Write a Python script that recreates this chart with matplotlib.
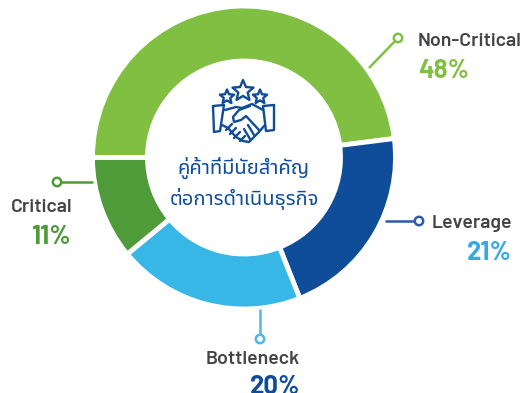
import numpy as np
import matplotlib
matplotlib.use('Agg')
import matplotlib.pyplot as plt
from matplotlib.patches import Circle, Polygon

W, H = 529, 393

names = ['Non-Critical', 'Leverage', 'Bottleneck', 'Critical']
values = [48, 21, 20, 11]
colors = ['#80bf41', '#0f4c99', '#36b7e6', '#4f9b3a']
line_colors = ['#80bf41', '#2a5ca8', '#4db9e8', '#4f9b3a']
pct_colors = ['#80bf41', '#36a9e1', '#0f4c99', '#4f9b3a']
title_lines = ['คู่ค้าที่มีนัยสำคัญ', 'ต่อการดำเนินธุรกิจ']
navy = '#0f4c99'
grey = '#444444'

thai_fonts = ['Noto Sans Thai', 'Sarabun', 'Loma', 'DejaVu Sans']
latin_fonts = ['Barlow', 'Roboto', 'DejaVu Sans']


def yy(py):
    # picture y goes down, axes y goes up
    return H - py


def star(cx, cy, r):
    a = np.pi / 2 + np.arange(10) * np.pi / 5
    rad = np.where(np.arange(10) % 2 == 0, r, r * 0.45)
    pts = np.column_stack([cx + rad * np.cos(a), yy(cy) + rad * np.sin(a)])
    return Polygon(pts, closed=True, fill=False, ec=navy, lw=1.7, joinstyle='round')


def stroke(ax, pts, lw=1.7):
    pts = np.array(pts, dtype=float)
    ax.plot(pts[:, 0], H - pts[:, 1], color=navy, lw=lw, solid_capstyle='round', solid_joinstyle='round')


fig = plt.figure(figsize=(W / 100, H / 100), dpi=100)
ax = fig.add_axes([0, 0, 1, 1])

ax.pie(values, colors=colors, startangle=180, counterclock=False,
       center=(244, yy(157.5)), radius=151.5, frame=True,
       wedgeprops=dict(width=55, edgecolor='white', linewidth=3.5))
ax.set_xlim(0, W)
ax.set_ylim(0, H)
ax.set_aspect('equal')
ax.axis('off')

# leader lines with ring ends
leaders = [((369, 68), (398, 38)), ((385, 221), (419, 221)),
           ((260, 309), (260, 339)), ((93, 182), (57, 182))]
for (a, b), c in zip(leaders, line_colors):
    ax.plot([a[0], b[0]], [yy(a[1]), yy(b[1])], color=c, lw=1.8, solid_capstyle='butt')
    ax.add_patch(Circle((b[0], yy(b[1])), 4.2, fc='white', ec=c, lw=1.8, zorder=3))

# category labels and percentages
labels = [(418, 41, 'left'), (512, 224, 'right'), (300, 359, 'right'), (72, 207, 'right')]
pcts = [(418, 71.5, 'left'), (512, 253.5, 'right'), (300, 386.5, 'right'), (71, 236.5, 'right')]
for i in range(len(names)):
    x, y, ha = labels[i]
    ax.text(x, yy(y), names[i], color=grey, fontsize=14, fontweight='semibold', family=latin_fonts, ha=ha, va='center')
    x, y, ha = pcts[i]
    ax.text(x, yy(y), '%d%%' % values[i], color=pct_colors[i], fontsize=18.5, fontweight='bold', family=latin_fonts, ha=ha, va='center')

# centre text
ax.text(243, yy(168), title_lines[0], color=navy, fontsize=14.5, fontweight='semibold', family=thai_fonts, ha='center', va='center')
ax.text(244, yy(199), title_lines[1], color=navy, fontsize=14.5, fontweight='semibold', family=thai_fonts, ha='center', va='center')

# handshake icon
ax.add_patch(star(243, 91, 11))
ax.add_patch(star(227, 97, 7.5))
ax.add_patch(star(260, 97, 7.5))
stroke(ax, [(213, 106), (224, 105), (220, 131), (214, 132), (213, 106)])
stroke(ax, [(274, 105), (263, 106), (266, 131), (274, 130), (274, 105)])
stroke(ax, [(225, 110), (236, 107), (242, 108), (252, 104), (263, 110)])
stroke(ax, [(222, 125), (228, 128), (236, 137), (243, 141), (249, 142), (258, 133), (265, 125)])
stroke(ax, [(250, 106), (239, 110), (233, 117), (234, 122), (241, 120), (246, 116), (259, 130)])
stroke(ax, [(226, 130), (232, 124)])
stroke(ax, [(230, 134), (236, 128)])
stroke(ax, [(234, 138), (240, 132)])
stroke(ax, [(240, 141), (245, 136)])
stroke(ax, [(248, 125), (254, 135)])
stroke(ax, [(244, 129), (250, 139)])

fig.savefig('out.png', dpi=100)
